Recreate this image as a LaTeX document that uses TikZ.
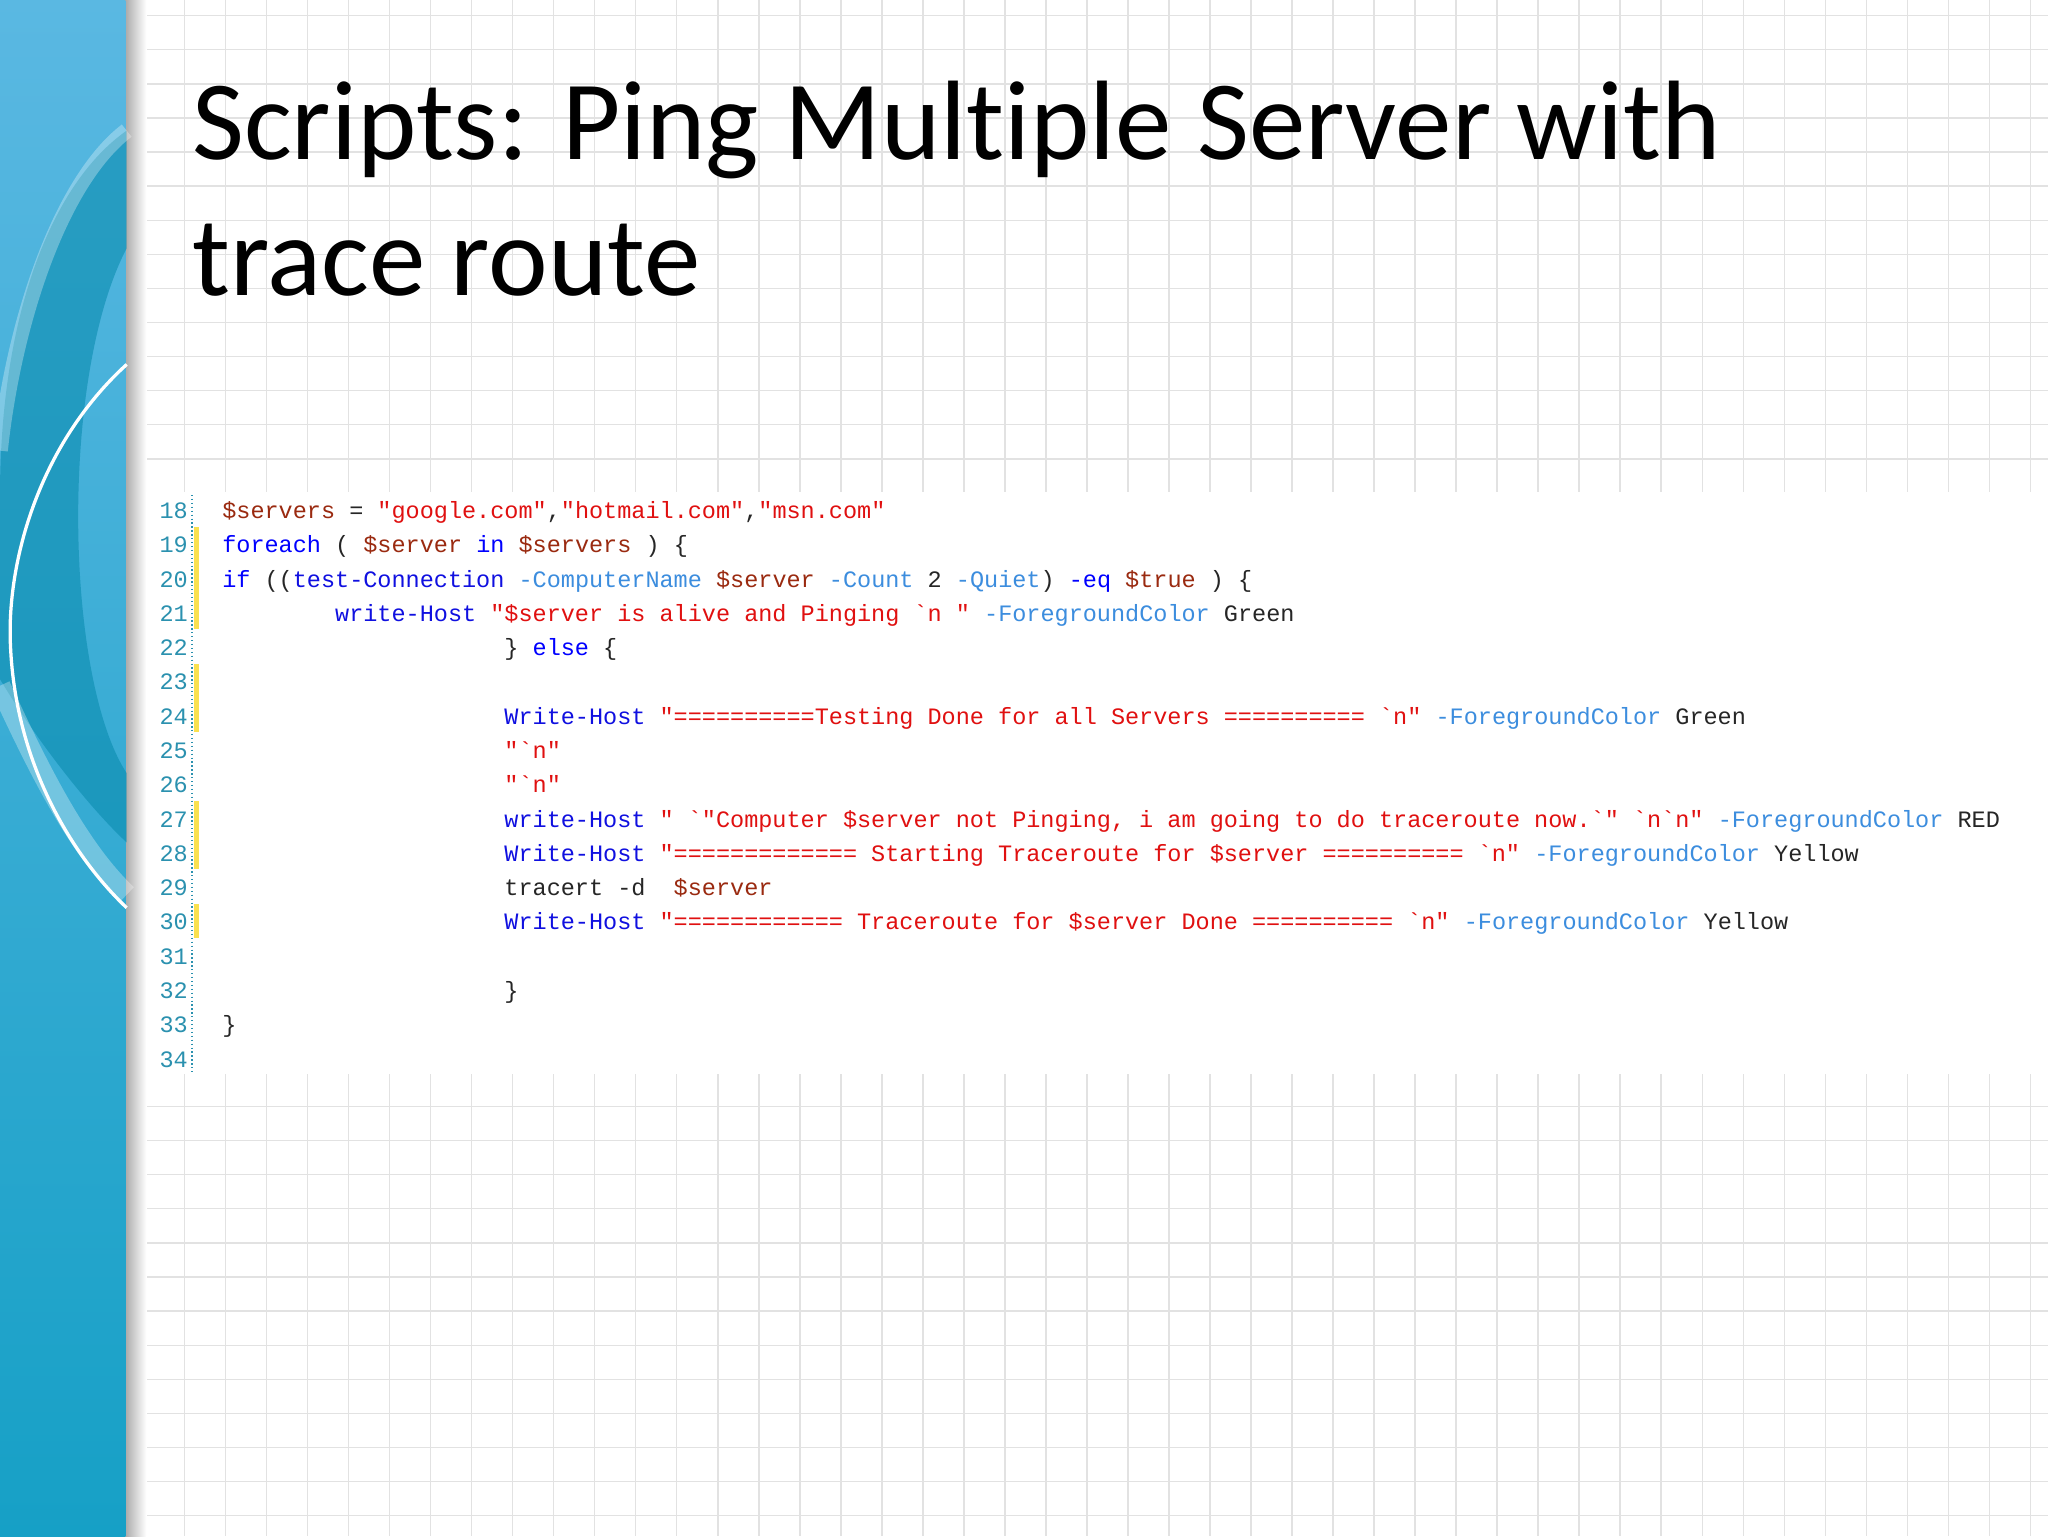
\documentclass[tikz,border=0pt]{standalone}
\usepackage{fontspec}
\setmainfont{Carlito}[Ligatures={NoCommon}]
\setmonofont{Liberation Mono}
\usetikzlibrary{shadings}
\definecolor{kwc}{HTML}{0000FF}
\definecolor{cmc}{HTML}{1010E0}
\definecolor{stc}{HTML}{E01010}
\definecolor{pac}{HTML}{3C8DDE}
\definecolor{vac}{HTML}{9A2A10}
\definecolor{lnc}{HTML}{2B91AF}
\definecolor{gridc}{HTML}{E2E2E2}
\definecolor{bandtop}{HTML}{5AB8E2}
\definecolor{bandbot}{HTML}{16A0C6}
\definecolor{banddark}{HTML}{0A8CAF}
\definecolor{markc}{HTML}{FAE150}
\newcommand\kw[1]{\textcolor{kwc}{#1}}
\newcommand\cm[1]{\textcolor{cmc}{#1}}
\newcommand\st[1]{\textcolor{stc}{#1}}
\newcommand\pa[1]{\textcolor{pac}{#1}}
\newcommand\va[1]{\textcolor{vac}{#1}}
\tikzset{codeline/.style={anchor=base west,inner sep=0,font=\ttfamily\fontsize{18}{20}\selectfont,text=black!85},
numline/.style={anchor=base east,inner sep=0,font=\ttfamily\fontsize{18}{20}\selectfont,text=lnc},
titletext/.style={anchor=base west,inner sep=0,font=\fontsize{86.5}{100}\selectfont}}
\begin{document}
\begin{tikzpicture}[x=1pt,y=-1pt]
\useasboundingbox (0,0) rectangle (1568,1176);
\fill[white] (0,0) rectangle (1568,1176);
% grid
\foreach \i in {0,...,47} {\draw[gridc,line width=1] ({110+\i*31.4},0) -- ({110+\i*31.4},1176);}
\foreach \j in {0,...,45} {\draw[gridc,line width=1] (105,{\j*26.1+12}) -- (1568,{\j*26.1+12});}
% shadow
\shade[left color=black!35,right color=white,draw=none] (95,0) rectangle (112,1176);
% left band
\shade[top color=bandtop,bottom color=bandbot] (0,0) rectangle (96,1176);
\fill[banddark,opacity=0.6] (97,100) .. controls (40,140) and (0,240) .. (0,380) -- (0,520) .. controls (30,570) and (70,620) .. (97,645) -- (97,592) .. controls (50,520) and (45,290) .. (97,190) -- cycle;
\draw[white,opacity=0.3,line width=12] (97,100) .. controls (45,140) and (10,250) .. (0,345);
\draw[white,opacity=0.3,line width=16] (0,525) .. controls (30,590) and (60,650) .. (97,685);
\draw[white,line width=2.5] (97,279) .. controls (30,340) and (5,430) .. (8,494) .. controls (12,590) and (60,660) .. (97,695);
% title
\node[titletext] (t1) at (147,122) {Scripts: Ping Multiple Server with};
\node[titletext] (t2) at (147,226) {trace route};
% code box
\fill[white] (112,377) rectangle (1568,822);
\draw[lnc,dotted,line width=1] (147,379) -- (147,822);
\foreach \r in {19,20,21,23,24,27,28,30} {\fill[markc] (148.5,{397+(\r-18)*26.25-20}) rectangle (152.5,{397+(\r-18)*26.25+6});}
\foreach \r in {18,...,34} {\node[numline] (n\r) at (144,{397+(\r-18)*26.25}) {\r};}
\newcommand\cl[3]{\node[codeline] (c#1) at ({170+#2*10.8},{397+(#1-18)*26.25}) {#3};}
\cl{18}{0}{\va{\$servers} = \st{"google.com"},\st{"hotmail.com"},\st{"msn.com"}}
\cl{19}{0}{\kw{foreach} ( \va{\$server} \kw{in} \va{\$servers} ) \{}
\cl{20}{0}{\kw{if} ((\cm{test-Connection} \pa{-ComputerName} \va{\$server} \pa{-Count} 2 \pa{-Quiet}) \kw{-eq} \va{\$true} ) \{}
\cl{21}{8}{\cm{write-Host} \st{"\$server is alive and Pinging `n "} \pa{-ForegroundColor} Green}
\cl{22}{20}{\} \kw{else} \{}
\cl{24}{20}{\cm{Write-Host} \st{"==========Testing Done for all Servers ========== `n"} \pa{-ForegroundColor} Green}
\cl{25}{20}{\st{"`n"}}
\cl{26}{20}{\st{"`n"}}
\cl{27}{20}{\cm{write-Host} \st{" `"Computer \$server not Pinging, i am going to do traceroute now.`" `n`n"} \pa{-ForegroundColor} RED}
\cl{28}{20}{\cm{Write-Host} \st{"============= Starting Traceroute for \$server ========== `n"} \pa{-ForegroundColor} Yellow}
\cl{29}{20}{tracert -d~~\va{\$server}}
\cl{30}{20}{\cm{Write-Host} \st{"============ Traceroute for \$server Done ========== `n"} \pa{-ForegroundColor} Yellow}
\cl{32}{20}{\}}
\cl{33}{0}{\}}
\end{tikzpicture}
\end{document}
